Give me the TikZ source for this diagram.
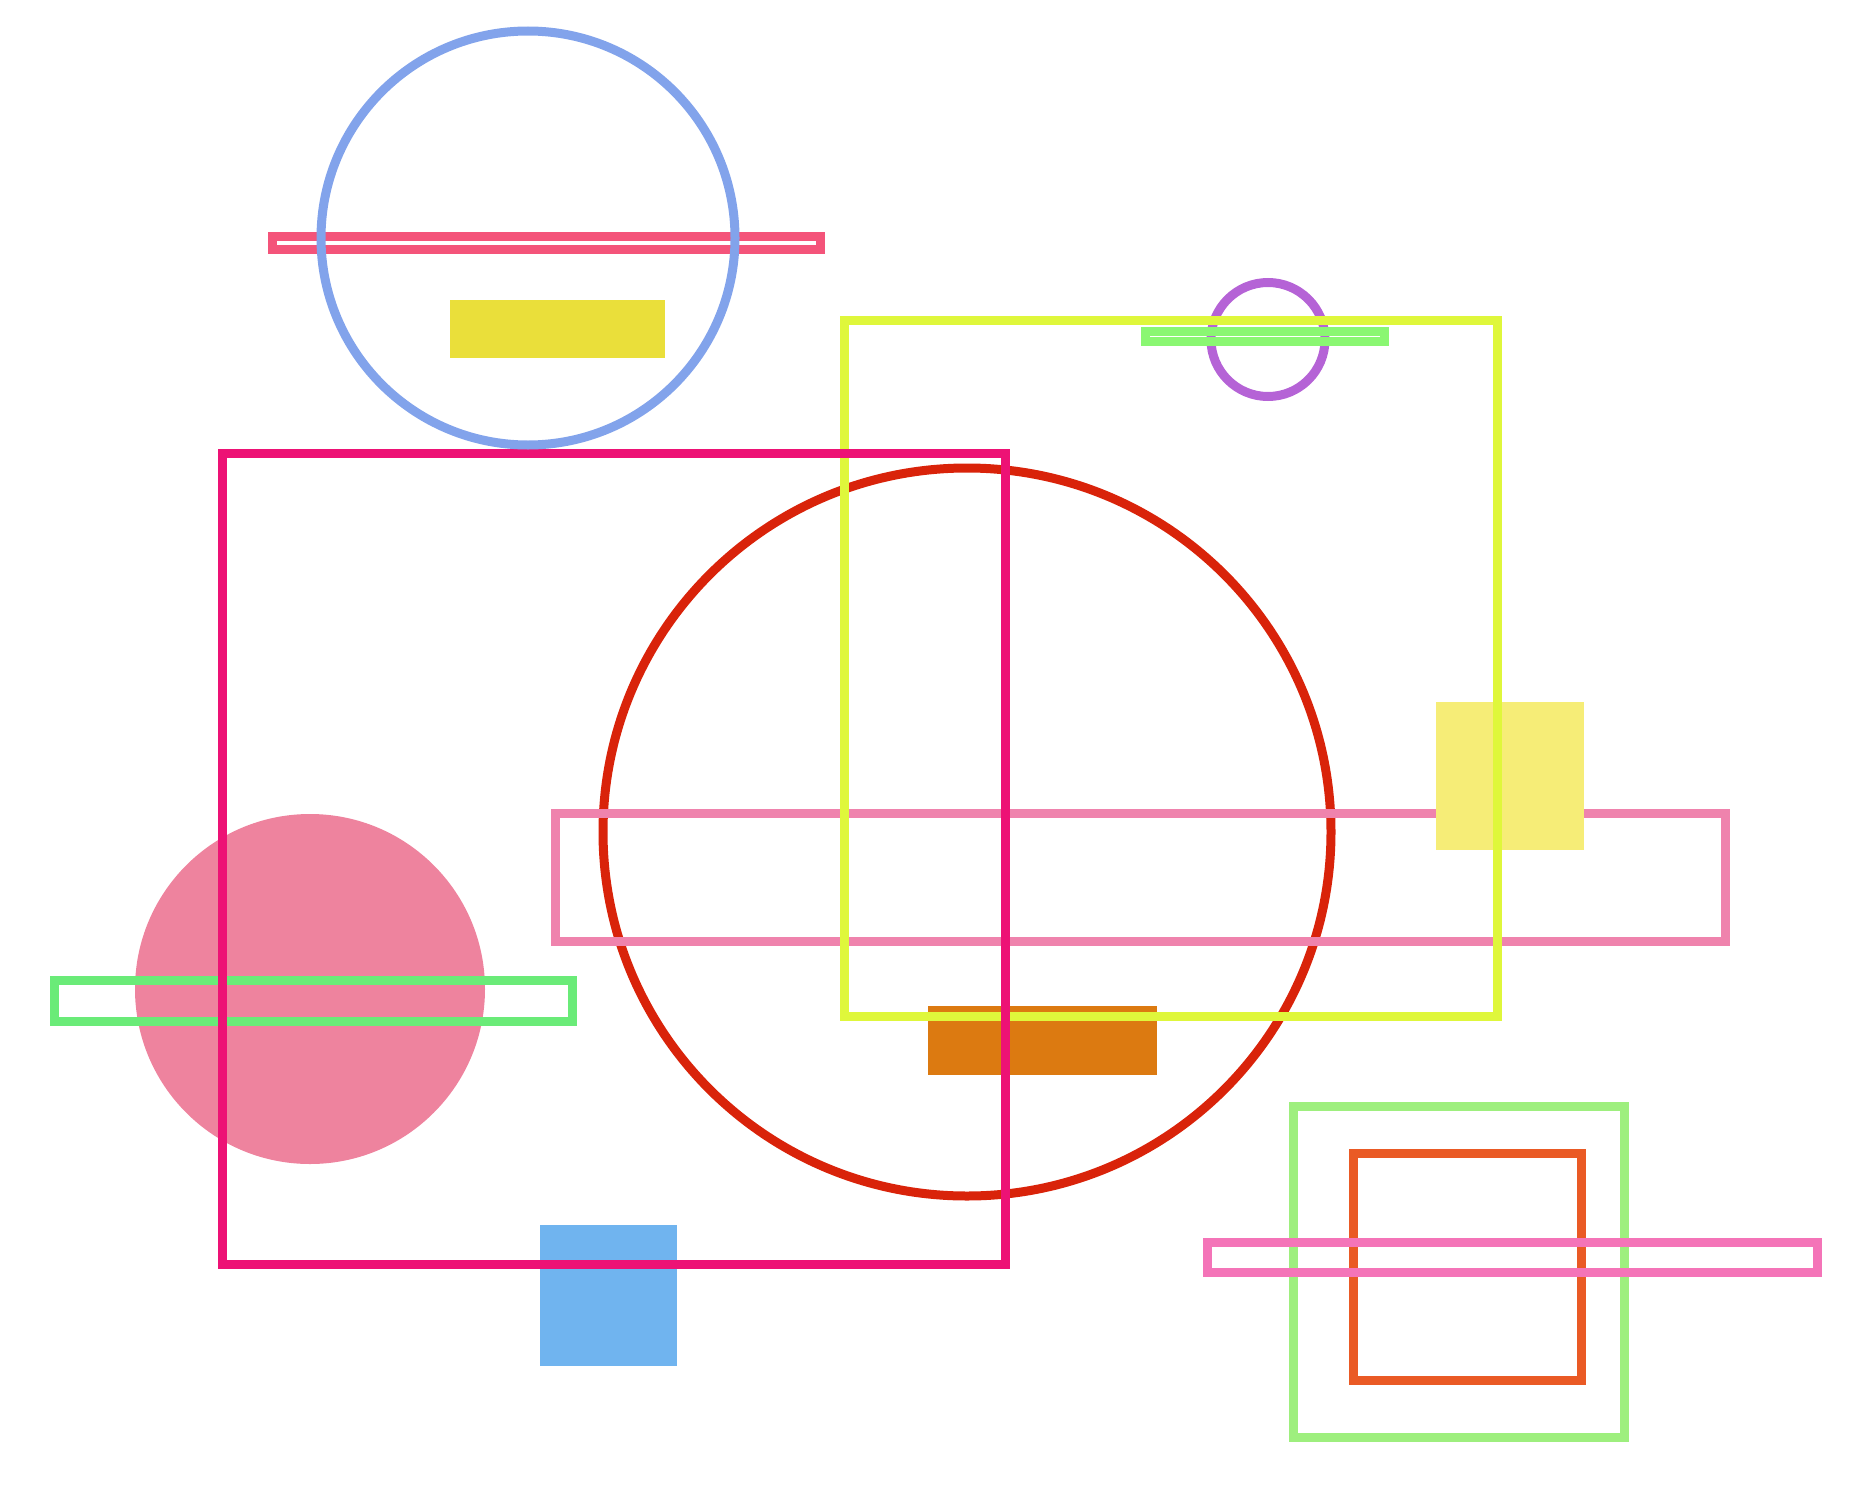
\documentclass[tikz,border=0pt]{standalone}
\usepackage{tikz}

\definecolor{ringblue}{HTML}{82A3EB}
\definecolor{barred}{HTML}{F4547A}
\definecolor{blockyellow}{HTML}{EADF3A}
\definecolor{framemagenta}{HTML}{ED1275}
\definecolor{ringred}{HTML}{D9230A}
\definecolor{framelime}{HTML}{DFF73B}
\definecolor{ringpurple}{HTML}{B563D6}
\definecolor{barlime}{HTML}{8AF772}
\definecolor{squareyellow}{HTML}{F6ED77}
\definecolor{bandpink}{HTML}{EF83AD}
\definecolor{discpink}{HTML}{EE839E}
\definecolor{bargreen}{HTML}{6AEB78}
\definecolor{blockorange}{HTML}{DC7A11}
\definecolor{blockblue}{HTML}{70B4EF}
\definecolor{framegreen}{HTML}{9EEF7E}
\definecolor{frameorange}{HTML}{EA5A25}
\definecolor{barpink}{HTML}{F474B8}

\tikzset{outline/.style={draw=#1, line width=9pt}}

\begin{document}
\begin{tikzpicture}[x=1pt, y=-1pt]

\useasboundingbox (0,0) rectangle (1871,1509);

\draw[outline=ringred] (967,832) circle (364);
\draw[outline=bandpink] (555,813) rectangle (1725,941);
\fill[squareyellow] (1436,702) rectangle (1584,850);
\fill[blockorange] (928,1006) rectangle (1157,1075);
\draw[outline=ringpurple] (1268,339.5) circle (57);
\draw[outline=framelime] (844.5,320.5) rectangle (1497,1016.5);
\draw[outline=barlime] (1145.5,331.5) rectangle (1384.5,341.5);

\fill[discpink] (310,989) circle (175);
\draw[outline=bargreen] (54.5,980) rectangle (572.5,1021.5);
\fill[blockblue] (540,1225) rectangle (677,1366);
\draw[outline=framemagenta] (222.5,453.5) rectangle (1005.5,1264.5);

\draw[outline=barred] (272.5,236.5) rectangle (820.5,249.5);
\fill[blockyellow] (450,300) rectangle (665,358);
\draw[outline=ringblue] (528,238) circle (207);

\draw[outline=framegreen] (1293.5,1106.5) rectangle (1624,1437.5);
\draw[outline=frameorange] (1353,1153) rectangle (1581,1380);
\draw[outline=barpink] (1207.5,1242) rectangle (1817.5,1272.5);

\end{tikzpicture}
\end{document}
